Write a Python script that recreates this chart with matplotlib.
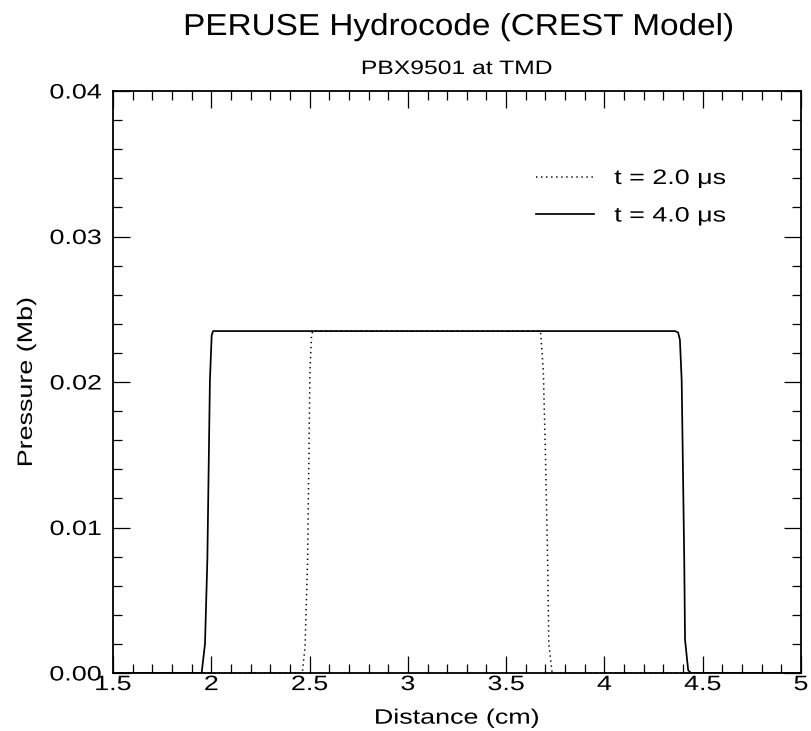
import matplotlib
matplotlib.use("Agg")
import matplotlib.pyplot as plt
from matplotlib.ticker import MultipleLocator
from matplotlib.patheffects import AbstractPathEffect
from matplotlib.transforms import Affine2D

plt.rcParams['font.family'] = ['Liberation Sans', 'DejaVu Sans']

# Data
x_t2 = [1.5, 2.45, 2.463, 2.477, 2.49, 2.502, 2.51, 2.516, 2.536, 3.675, 3.689, 3.70, 3.711, 3.717, 3.734, 5.0]
p_t2 = [0.0, 0.0, 0.0, 0.0018, 0.0078, 0.0208, 0.0232, 0.0235, 0.0235, 0.0235, 0.0208, 0.0150, 0.0078, 0.0020, 0.0, 0.0]

x_t4 = [1.5, 1.94, 1.951, 1.968, 1.98, 1.993, 2.002, 2.009, 2.03, 4.36, 4.375, 4.384, 4.393, 4.406, 4.41, 4.426, 4.44, 5.0]
p_t4 = [0.0, 0.0, 0.0, 0.0020, 0.0078, 0.0201, 0.0232, 0.0235, 0.0235, 0.0235, 0.0234, 0.0229, 0.0201, 0.0078, 0.0023, 0.0002, 0.0, 0.0]

labels = ["t = 2.0 \u03bcs", "t = 4.0 \u03bcs"]
x_ticks = [1.5, 2, 2.5, 3, 3.5, 4, 4.5, 5]
x_tick_labels = ["1.5", "2", "2.5", "3", "3.5", "4", "4.5", "5"]
y_ticks = [0.00, 0.01, 0.02, 0.03, 0.04]
y_tick_labels = ["0.00", "0.01", "0.02", "0.03", "0.04"]


class HStretch(AbstractPathEffect):
    """Widen glyphs horizontally (the reference font is drawn wide)."""
    def __init__(self, sx, anchor=0.5):
        super().__init__()
        self.sx = sx
        self.anchor = anchor

    def draw_path(self, renderer, gc, tpath, affine, rgbFace=None):
        ext = tpath.get_extents()
        a0 = ext.x0 + self.anchor * (ext.x1 - ext.x0)
        t = Affine2D().translate(-a0, 0).scale(self.sx, 1).translate(a0, 0)
        renderer.draw_path(gc, tpath, t + affine, rgbFace)


SX = 1.29

fig = plt.figure(figsize=(8.11, 7.31), dpi=100)
ax = fig.add_axes([113/811, 1 - 673/731, 688/811, 582/731])

l1, = ax.plot(x_t2, p_t2, color='black', lw=1.1, linestyle=(0, (0.9, 2.4)))
l2, = ax.plot(x_t4, p_t4, color='black', lw=1.25)

ax.set_xlim(1.5, 5.0)
ax.set_ylim(0.0, 0.04)
ax.set_xticks(x_ticks)
ax.set_xticklabels(x_tick_labels)
ax.set_yticks(y_ticks)
ax.set_yticklabels(y_tick_labels)
ax.xaxis.set_minor_locator(MultipleLocator(0.1))
ax.yaxis.set_minor_locator(MultipleLocator(0.002))

for s in ax.spines.values():
    s.set_linewidth(1.3)

ax.tick_params(which='both', direction='in', top=True, right=True, width=0.9, labelsize=15)
ax.tick_params(which='major', length=12.2)
ax.tick_params(which='minor', length=6.5)
ax.tick_params(axis='x', which='major', pad=1.5)
ax.tick_params(axis='y', which='major', pad=8)

xl = ax.set_xlabel("Distance (cm)", fontsize=15, labelpad=10.5)
yl = ax.set_ylabel("Pressure (Mb)", fontsize=15, labelpad=18)
xl.set_path_effects([HStretch(SX, 0.5)])
yl.set_path_effects([HStretch(SX, 0.5)])

t1 = fig.text(458/811, 1 - 35/731, "PERUSE Hydrocode (CREST Model)", fontsize=21.8,
              ha='center', va='baseline')
t1.set_path_effects([HStretch(1.1, 0.5)])
t2 = fig.text(457/811, 1 - 74/731, "PBX9501 at TMD", fontsize=14,
              ha='center', va='baseline')
t2.set_path_effects([HStretch(1.27, 0.5)])

leg = ax.legend([l1, l2], labels, loc='upper left', bbox_to_anchor=(0.6148, 0.866),
                frameon=False, fontsize=15, handlelength=2.8, handletextpad=0.96,
                labelspacing=0.89, borderpad=0, borderaxespad=0)
for txt in leg.get_texts():
    txt.set_path_effects([HStretch(SX, 0.0)])

for lbl in ax.get_xticklabels():
    lbl.set_path_effects([HStretch(SX, 0.5)])
for lbl in ax.get_yticklabels():
    lbl.set_path_effects([HStretch(SX, 1.0)])

fig.savefig("out.png", dpi=100)
